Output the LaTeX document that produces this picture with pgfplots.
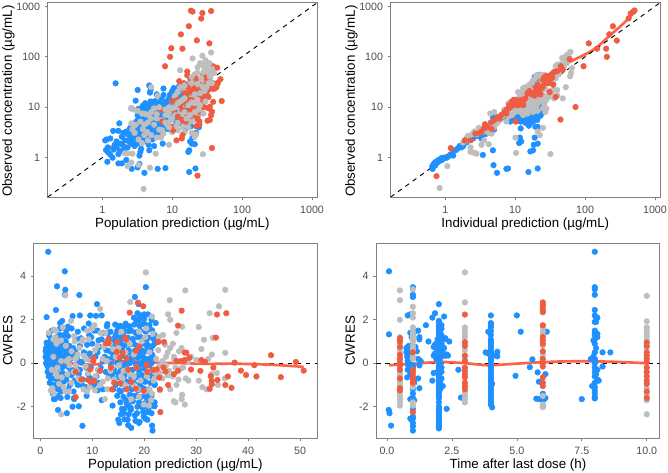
\documentclass[border=0pt]{standalone}
\usepackage{fontspec}
\setmainfont{Liberation Sans}
\usepackage{pgfplots}
\pgfplotsset{compat=1.18}

\definecolor{dvblue}{HTML}{1E90FF}
\definecolor{dvgrey}{HTML}{BEBEBE}
\definecolor{dvred}{HTML}{EE5C42}
\definecolor{dvline}{HTML}{FF6347}
\definecolor{frame}{HTML}{7F7F7F}
\definecolor{ticktext}{HTML}{4D4D4D}

\pgfplotsset{
  panel/.style={
    scale only axis, anchor=south west,
    axis line style={frame, line width=0.7pt},
    tick style={frame, line width=0.5pt},
    tick align=outside, major tick length=2.2pt,
    xtick pos=bottom, ytick pos=left,
    minor tick length=0pt,
    tick label style={font=\fontsize{8}{9}\selectfont, text=ticktext},
    label style={font=\fontsize{11.4}{13}\selectfont, text=black},
    xticklabel style={yshift=-1pt},
    every axis x label/.style={at={(rel axis cs:0.5,0)}, anchor=center, yshift=-20.6pt},
  },
  logpanel/.style={panel, width=202pt, height=145.7pt,
    xmin=0.1656, xmax=1180, ymin=0.166, ymax=1183,
    xtick={1,10,100,1000}, xticklabels={1,10,100,1000},
    ytick={1,10,100,1000}, yticklabels={1,10,100,1000},
    every axis y label/.style={at={(rel axis cs:0,0.5)}, rotate=90, anchor=center, yshift=29.5pt, xshift=-1pt},
    ylabel={Observed concentration (µg/mL)}},
  respanel/.style={panel, width=212.6pt, height=145.7pt,
    ymin=-3.44, ymax=5.5,
    ytick={-2,0,2,4}, yticklabels={-2,0,2,4},
    every axis y label/.style={at={(rel axis cs:0,0.5)}, rotate=90, anchor=center, yshift=19.5pt},
    ylabel={CWRES}},
  pb/.style={only marks, mark=*, mark size=2.1pt, color=dvblue, mark options={draw=none, fill=dvblue}},
  pg/.style={only marks, mark=*, mark size=2.1pt, color=dvgrey, mark options={draw=none, fill=dvgrey}},
  pr/.style={only marks, mark=*, mark size=2.1pt, color=dvred, mark options={draw=none, fill=dvred}},
  trend/.style={no marks, smooth, color=dvline, line width=2pt},
  refline/.style={no marks, black, dash pattern=on 3.4pt off 3.4pt, line width=0.7pt},
}

\begin{document}
\begin{tikzpicture}
\useasboundingbox (0,0) rectangle (501pt,354.75pt);

% population prediction, log-log
\begin{loglogaxis}[logpanel, at={(35.8pt,207pt)}, xlabel={Population prediction (µg/mL)}]
\addplot[pb] coordinates {(1.55,29.8)(3.2,22)(3,13.5)(2.6,9.5)(1.75,4.8)(1.43,3.4)(1.7,3.4)(1.15,2.3)(1.3,2.4)(1.1,2.2)(1.13,1.42)(1.2,1.3)(1.18,0.83)(1.4,1)(1.7,1.18)(1.7,0.77)(1.9,0.77)(2.2,0.9)(2.63,0.6)(3.2,0.64)(3.4,0.75)(4,0.5)(6.2,0.6)(8,0.62)(17.5,0.52)(21.5,0.61)(4.7,27)(4.9,22)(4.8,19.5)(7.5,23.5)(6,18)(7.5,17.5)(5.3,12.8)
(1.5,1.8)(1.6,1.6)(1.8,1.9)(1.9,2.6)(2,3.1)(2.1,2.2)(2.2,3.3)(2.3,1.6)(2.4,2.1)(2.5,2.6)(2.6,1.9)(2.7,3.4)(2.8,2.2)(2.9,1.7)(3,2.5)(3.1,3.9)(3.2,1.9)(3.3,2.3)(3.4,1.1)(3.5,1.3)(3.6,1.5)(3.7,2.7)(3.8,4.6)(3.9,3.2)(4,5.3)(4.1,6.1)(4.2,2.3)(4.3,7)(4.4,8.5)(4.5,3.3)(4.6,1.8)(4.7,1.4)(4.8,4.5)(5,9.5)(5.1,11)(5.2,6.2)(5.3,4.1)(5.4,2.8)(5.5,1.7)(5.6,5.7)(5.8,7.4)(6,4.9)(6.1,3.5)(6.3,9.2)(6.5,6.9)(6.7,5.5)(7,2.9)(7.3,1.9)(7.5,4.2)(7.7,7.6)(8,10.5)(8.2,13)(8.5,5.5)(8.8,8.8)(9,15)(9.3,18)(9.6,6.7)(10,21)(10.5,24)(11,14)(11.5,4.8)(12,16)(12.5,26)(13,9.5)(13.5,19)(14,6.2)(14.5,23)(15,12)(15.5,3.7)(16,17)(16.5,28)(17,1.3)(17.5,1.4)(18,2.1)(18.5,4.2)(19,1.9)(19.5,2.5)(20,6.5)(21,1.85)(22,3.1)(23,11)(24,4)(4.1,12)(3.3,9.3)(3.6,8.2)(3.9,9)(4.5,10)(4.7,11.7)(5.7,13.2)(6.6,12.5)(7,14.8)(8.3,12.4)(3.1,5.3)(3.4,6.3)(3.7,5.5)(4.2,4.1)(4.9,3.6)(5.2,5)(5.5,6.8)(6.2,8)(6.8,10.2)(2.9,4.8)(3.2,6.9)(4.4,5.9)(5.9,10.7)(7.9,5.2)(8.7,3.7)(9.5,11.4)(10.2,9)(11.3,8)(12.3,5.7)(13.2,11.5)(14.3,8)(16.2,6)(18,4.5)(20.5,8)
(1.2,1.6)(1.3,1.15)(1.45,1.45)(1.6,2.1)(1.8,1.35)(2,1.7)(2.1,1.45)(2.3,2.9)(2.5,3.9)(2.7,2.8)(2.9,3.1)(3.1,2.1)(3.3,3.3)(3.5,2.6)(3.7,3.7)(3.9,2.1)(4.1,3)(4.3,2.6)(4.5,4.5)(4.7,2.5)(5,3.2)(5.2,2.3)(5.5,3.1)(5.8,2.7)(6.2,4.3)(6.6,3.2)(7,4.6)(7.5,3.5)(8,4.6)(3.4,4.3)(3.6,4.9)(3.9,5.7)(4.2,4.9)(4.4,5.4)(4.7,6.6)(5,5.8)(5.4,7.8)(5.7,6.1)(6,6.3)(6.4,7.9)(7,6.6)(7.4,8.8)(8,6.2)(8.6,10)(9.2,7.6)(9.8,8.4)(10.5,11)(11,13)(11.8,11)(12.4,15)(13,18)(13.7,14)(14.5,16)(15.5,20)(16.5,14)(17.5,23)(18.5,27)(19,19)(10.5,6)(11.5,6.8)(12.5,7.5)(13.5,4.8)(14.5,4.1)(15,7)(16,8.5)(17,5)(18,7.5)(19,9.5)(21,6.8)(22,12)(24,17)(4.2,10.2)(5.5,11.5)(3.8,10.8)(6.8,8.5)(4.9,13)(5.8,12)(7.2,11.2)};
\addplot[pg] coordinates {(3.9,0.24)(27.5,1.17)(4.8,0.63)(2.3,0.68)(2.6,0.8)(3.3,0.72)(2.1,1.22)(2.3,1.22)(2.7,1.2)(5.8,1.2)(9,1.8)(2.6,9.7)(2.8,9)(3.2,8.5)(3.7,7.5)(4.1,7.4)(5,25)(6.2,17)(13,54)(19.5,93)(27,105)(36,122)(25,75)(32,70)(23,62)(29,60)(35,53)(34,43)(30,44)(21,45)(18,34)(24,33)(27,30)(31,30)(22,25)(26,24)(30,22)(33,26)(20,20)(24,20)(13,25)(17,26)(12,20)(15,21)(11,17)(14,14)(18,15)(21,15)(25,15)(28,17)(10,13)(12,10)(16,11)(19,9)(23,10)(27,12)(9,8)(11,7)(14,6.7)(17,7.5)(20,7)(24,7)(7,9)(8,7)(9.5,5.5)(12,5)(15,4.5)(18,5.2)(21,5.5)(7,5.5)(5.5,4.5)(6.5,3.6)(7.5,3)(8.5,4.5)(10,3.2)(12,3.5)(15,3.2)(19,3.1)(21,2.6)(22,2.9)(5,8)(6,7.3)(5.5,9.5)(4.5,7)(3,4.5)(2.6,4.8)(2.7,3.7)(3.8,3.7)(4.4,3.2)(5,2.8)(6,2.5)(6.9,2.5)(4.5,2.2)(3.7,1.95)(3.3,2.3)(4,2.8)(7.2,3.5)(8.8,7)(13,8)(17,17)(29,35)(22,36)(20,26)(32,17)(24,13)};
\addplot[pr] coordinates {(18.5,822)(19.5,790)(27,740)(36,810)(26,575)(17.3,405)(13.3,279)(22.5,212)(34,185)(9.7,148)(14,145)(9.3,100)(7.9,65)(38.5,65)(44,61)(16.4,51)(16.4,43)(12.6,33)(14.7,30)(18.3,37)(22,37)(27.5,43)(29,39)(25,27.5)(49,36)(45,30)(43,25)(41,24)(51,13.3)(38.5,12.8)(34.5,10.3)(33,9.5)(37,8.2)(36,7)(34.5,5.6)(32,5.4)(37,1.55)(23,0.44)(24.5,5.2)(24.5,4.5)(22,4.2)(14,2.8)(11.5,2.2)(13.7,2.4)(10.3,3.5)(9.8,4.1)(7.2,5.2)(6.9,9)(10,13.3)
(15,19)(16,18)(17.5,20)(19,21)(21,23)(24,21)(27,19)(30,17)(17,14)(19,14)(21.5,13)(24,14)(27,15)(29,13)(31,20)(34,23)(36,25)(39,23)(16,11.5)(18,11)(20,11)(23,11)(26,10)(29,10)(18,9)(21,9)(25,8)(14,9)(16,7.5)(12,6.5)(14,5.6)(15.5,5.2)(18,6.7)(20,7)(23,6)(12,14)(10.5,9)(13,11)(17,25)(20,29)(24,28)(32,32)(35,28)(29,27)(38,30)(41,27)(22,18)(26,17)(33,16)(28,24)};
\addplot[pg] coordinates {(15,8)(17,11)(19,12.5)(21,18)(23,14)(25,19)(27,26)(29,21)(31,25)(33,30)(35,40)(37,30)(28,50)(31,55)(26,38)(23,29)(19,30)(15,15)(13,13)(11,10)(16,6)(18,7)(21,8)(24,9)(28,7.5)(14,4)(17,4)(10,6)(11.5,4.2)(9,4)(8,5)(6,6)(4.5,5)(5,6)(3.5,5.2)(2.9,3.1)(4,4.5)(6.5,10)(8,9)(9,10)(10,9.5)(21,12)(25,11)(30,13)(12,12)(15,27)(19,40)(23,48)(27,70)(30,85)(34,75)(37,58)(40,48)};
\addplot[trend] coordinates {(1.13,1.48)(1.8,1.92)(2.8,2.7)(4.3,3.8)(6.7,6.5)(10.3,10.6)(16,15)(25,22.7)(38.5,30)(48,34.5)};
\addplot[refline] coordinates {(0.1656,0.1656)(1180,1180)};
\end{loglogaxis}

% individual prediction, log-log
\begin{loglogaxis}[logpanel, at={(293pt,207pt)}, xlabel={Individual prediction (µg/mL)}]
\addplot[pb] coordinates {(5.5,0.5)(7.5,0.6)(7.9,0.61)(4.9,0.71)(15.5,0.52)(21,0.61)(3.45,1.13)(4.8,1.4)(11.7,2.5)(12.2,2.1)(11.4,1.95)(16.5,1.33)(18,1.4)(18.5,1.8)(21,1.9)(19,2.5)(12,3.8)(14,4.9)(16.5,4.8)(19.5,4.1)(21,4.1)(15.7,4.3)(16.5,5.6)(23,6.8)(20.7,5.6)(16.5,8.2)(18.5,13.5)
(0.65,0.66)(0.67,0.72)(0.7,0.78)(0.74,0.84)(0.8,0.9)(0.88,0.98)(0.95,1.0)(1,1)(1.05,1)(1.3,1.1)(1.5,1.5)(1.7,1.6)(2,2)(2.5,2.4)(3,2.7)(3.6,2.9)(4.2,3.3)(5,3.6)(4.6,4.7)(4.8,6.3)(5.5,6.3)(6.5,6.2)(7.5,6.1)(9,6)(10,5.9)(11,7)(12,6.5)(14,6.7)(15,6.5)(16,7)(18,6.9)(20,7.5)(22,8)(14,9.5)(16,11)(18,10.5)(20,11)(22,12)(15,17)(17,20)(19,25)(20,31)(21,38)(22,44)(24,30)(19,40)(20,16)(22,18)
(0.66,0.6)(0.68,0.68)(0.72,0.7)(0.77,0.8)(0.82,0.85)(0.9,0.9)(1.1,1.05)(1.2,1.15)(1.4,1.4)(1.6,1.7)(1.8,1.7)(2.2,2.3)(2.8,2.7)(3.3,2.4)(3.9,3)(4.5,3.9)(5,5)(6,5.8)(7,7)(8,7)(8.5,5.2)(9.5,8)(10,6.9)(11,5.4)(12,5.2)(13,5.5)(14,5.7)(15,5.2)(17,5.9)(18,5.2)(19,6)(21,6.2)(22,7)(23,7.8)(24,7.5)(13,8)(12,9.5)(15,8.5)(18,9)(21,9)(24,9.5)(14,12)(17,13)(20,14)(23,15)(16,15)(19,18)(21,22)(23,28)(24,34)(25,40)(18,30)(17,26)(14,20)(20,35)};
\addplot[pg] coordinates {(0.83,0.25)(1.07,0.68)(10.3,1.24)(32,1.18)(4.2,1.84)(10.1,2.5)(25,3.9)(22.5,2.8)(21,3.3)(2.3,1.3)(2.6,1.25)(2.8,1.2)(2.3,1.6)(3.3,1.8)(3.6,2.2)(2,2.4)(2.2,2.6)(2.6,3.3)(3,3.9)(3.5,3.3)(4.2,3.1)(4.6,3)(5,4)(5.2,5.5)(4.4,7.5)(5,8)(7.5,5.2)(9,7)(10,8)(7,9)(8,12)(9,11)(10,10)(11,9)(12,8)(13,7)(14,8.5)(15,7.5)(16,9.5)(18,8)(21,8.5)(25,9.5)(28,9.5)(27,8)(12,13)(13,16)(14,18)(15,14)(16,22)(17,15)(18,17)(20,22)(22,14)(24,15)(26,17)(27,23)(30,16)(33,19)(36,15)(40,17)(48,15)(53,25)(61,41)(63,48)(22,29)(24,37)(26,44)(30,32)(35,30)(38,38)(42,45)(44,52)(46,65)(45,72)(38,65)(50,90)(52,100)(60,120)(56,110)(65,60)(18,34)(20,43)(16,28)(14,25)(13,21)(40,70)(42,68)(21,12)(23,20)(25,23)
(1.8,2)(2,2.2)(2.1,2.7)(2.4,2.9)(2.8,2.9)(3.2,3.5)(3.7,3.9)(4.1,3.9)(4.5,4.4)(5.5,4.8)(6,5.5)(6.5,6.5)(7,7.5)(7.5,8)(8,8.5)(8.5,9)(9,9.5)(9.5,12)(8.5,12.5)(10,13)(11,15)(11.5,13)(12.5,11)(13,9)(13.5,10)(14,13)(15,11)(16,13)(17,10)(17.5,12)(18.5,12)(19,14)(20,10)(20,13)(21,15)(22,17)(23,24)(24,21)(25,30)(26,27)(27,33)(28,35)(29,40)(31,38)(33,35)(35,42)(37,46)(40,60)(43,58)(48,70)(50,65)(55,75)(58,100)(62,125)(47,95)(15,24)(17,30)(19,36)(21,42)(23,44)(14,18)(12,17)(11,20)(13,24)(16,17)(18,22)(20,27)(24,13)(26,12)(28,14)(32,21)(35,22)(40,22)(10,11)(9,8)(8,6.5)};
\addplot[pr] coordinates {(0.75,0.43)(1.2,1.55)(10.2,5.2)(44.5,5.7)(73,10.1)(95,65)(60,90)(113,185)(148,145)(205,100)(200,145)(222,280)(250,405)(285,210)(420,580)(450,725)(490,790)(510,830)(1.9,2.2)(2.3,2.2)(2.7,3)(3.1,3.1)(3.6,3.9)(3.7,4.6)(4.6,3.7)(5,5.5)(5.6,6.3)(6.3,7)(7,8)(7.6,9)(8.2,11)(9,13)(9.4,12)(10,14)(11,11)(12,14)(13,13)(15,19)(16,21)(18,19)(20,22)(20,25)(21,28)(24,24)(25,35)(26,39)(29,38)(30,30)(33,45)(36,50)(35,28)(38,16)(34,39)(45,65)(48,55)(28,42)(23,18)(31,20)(6,6)(8,9.5)(10,11)(13,11)(11.5,13)(14,15)(17,18)(19,17)(22,20)(25,26)(27,30)(32,36)(40,52)(7.5,7.5)(8.5,10)(9.5,14)(10.5,12.5)(4,4)(4.5,5)(3.3,3.3)};
\addplot[trend] coordinates {(0.65,0.61)(0.86,0.87)(1.33,1.42)(2.6,2.6)(5,5.2)(10.7,12)(18.5,24)(32,45)(55,74)(107,117)(150,158)(230,270)(355,460)(520,790)};
\addplot[refline] coordinates {(0.1656,0.1656)(1180,1180)};
\end{loglogaxis}

% residuals vs population prediction
\begin{axis}[respanel, at={(25.3pt,26.25pt)}, xmin=-1.28, xmax=53.3,
  xtick={0,10,20,30,40,50}, xticklabels={0,10,20,30,40,50},
  xlabel={Population prediction (µg/mL)}]
\addplot[pb] coordinates {(1.5,5.13)(4.7,4.23)(3.2,3.54)(4.8,3.38)(4.7,3.15)(7.5,3.14)(1.2,2.12)(3,2.45)(4.2,1.95)(6.2,2.17)(7.6,2.2)(9.6,2.2)(10.7,2.18)(11.8,2.2)(10.9,2.72)(9.3,1.83)(5.3,1.68)(3.8,1.85)(1.2,0.95)(1.7,1.27)(2.2,1.5)(3.8,1.6)(5,1.5)(7.2,1.45)(9.8,1.2)(11.2,1.05)(12.9,1.8)(1,0.55)(1.2,0.5)(1.4,0.6)(1.6,0.4)(1.8,0.7)(2,0.5)(2.2,0.3)(2.5,0.6)(2.8,0.4)(3.1,0.8)(3.4,0.5)(3.7,0.2)(4,0.6)(4.4,0.9)(4.8,0.4)(5.2,0.6)(5.8,0.2)(6.3,0.7)(7,0.3)(7.6,0.8)(8.4,0.5)(9.2,0.2)(10,0.9)(11,0.5)(12,0.1)(12.7,0.6)(1.1,0)(1.5,-0.2)(1.9,-0.5)(2.3,-0.1)(2.7,-0.7)(3.2,-0.3)(3.7,-0.9)(4.2,-0.2)(4.7,-0.6)(5.3,-1.2)(5.9,-0.3)(6.6,-0.8)(7.4,-0.5)(8,-1)(8.8,-0.2)(9.7,-0.7)(1.8,-0.9)(2.4,-1.4)(2.8,-1.65)(3.3,-1.5)(3.9,-1.6)(4,-1.3)(3.4,-2.15)(5.1,-2.3)(6.2,-2)(7.4,-1.98)(8.1,-2.88)(6.5,-1.6)(8.9,-1.5)(11,-1.25)(11.8,-1.7)(13.2,-0.6)
(13,1.4)(14,1)(14.5,1.3)(15,1.7)(15.5,1.2)(16,1.6)(16.5,1.75)(17,0.9)(17.5,1.5)(18,2.1)(18.3,1.4)(18.7,2.3)(19,2)(19.3,1.2)(19.7,1.8)(20,2.25)(20.5,1.1)(21,1.6)(21.4,2)(22,1.3)(22.2,1.85)(18.2,3.05)(20.3,3.5)(18.9,2.72)(14,0.4)(14.5,0.7)(15,0.2)(15.5,0.9)(16,0.4)(16.5,0)(17,0.6)(17.5,0.25)(18,0.9)(18.5,0.3)(19,-0.1)(19.5,0.6)(20,0.2)(20.5,0.8)(21,-0.1)(21.5,0.4)(22,0.9)(14,-0.4)(14.5,-1)(15,-0.5)(15.5,-1.3)(16,-0.7)(16.5,-1.7)(17,-0.3)(17.5,-1.1)(18,-1.5)(18.5,-0.6)(19,-1.2)(19.5,-1.9)(20,-0.8)(20.5,-1.6)(21,-0.5)(21.5,-1.95)(22,-1)(13.9,-1.95)(15,-2.6)(15.2,-2.75)(15.7,-2.1)(16,-2.3)(16.2,-2.58)(16.8,-2.6)(17,-1.95)(16.9,-2.85)(17.5,-2.97)(17.4,-2.05)(18.2,-2.4)(18.7,-2)(19,-2.75)(19.1,-2.7)(19.8,-2.25)(20.2,-2.55)(20.6,-2.6)(20.7,-2.25)(21.5,-2.87)(21.6,-3.1)(22,-1.98)
(1,0.3)(1.1,0.7)(1.2,0.2)(1.3,-0.1)(1.3,0.45)(1.4,-0.4)(1.5,0.75)(1.6,-0.6)(1.7,0.1)(1.7,0.95)(1.8,-0.3)(1.9,0.25)(2,-0.7)(2,1.05)(2.1,-0.1)(2.2,0.75)(2.3,-1)(2.4,0.15)(2.5,-0.35)(2.6,0.85)(2.6,-1.65)(2.7,0.1)(2.8,-1)(2.9,0.65)(3,-0.15)(3.1,1.2)(3.2,-0.75)(3.3,0.25)(3.4,-1.2)(3.5,0.95)(3.6,-0.05)(3.7,1.3)(3.8,-0.55)(3.9,0.7)(4,-1.1)(4.1,0.35)(4.2,1.1)(4.3,-0.45)(4.4,0.15)(4.5,-0.85)(4.6,1.3)(4.7,0.65)(4.8,-0.1)(4.9,1)(5,-0.75)(5.1,0.2)(5.2,-1.55)(5.3,1.25)(5.4,0.45)(5.5,-0.2)(5.6,0.8)(5.7,-1)(5.8,0.55)(6,1.6)(6,-0.55)(6.2,0.35)(6.4,-1.3)(6.5,-1.65)(6.7,0.55)(6.9,-0.2)(7,1.1)(7.2,-1)(7.4,0.1)(7.6,-0.3)(7.8,1.15)(8,0.05)(8.2,-0.75)(8.4,1.6)(8.6,0.3)(8.8,-1.1)(9,0.85)(9.2,-0.5)(9.4,1.3)(9.5,0.45)(9.7,-0.2)(9.9,1.6)(10.1,0.1)(10.3,-1)(10.4,1.5)(10.6,0.3)(10.8,-0.6)(11,1.5)(11.2,-0.9)(11.4,0.75)(11.6,-0.2)(11.8,1.1)(12,-1.2)(12.2,1.4)(12.4,0.3)(12.6,-0.4)(12.8,1.7)(13,0.2)
(14.4,1.78)(15.4,1.72)(16.4,1.82)(17.2,1.7)(18.1,1.78)(19.1,1.72)(20.1,1.8)(21,1.75)(13.5,1.45)(14.8,1.5)(16,1.4)(17,1.48)(18.4,1.42)(19.2,1.5)(20.3,1.45)(21.5,1.52)(13.2,1.15)(14.4,1.2)(15.6,1.1)(16.8,1.18)(17.8,1.12)(18.8,1.2)(19.8,1.1)(20.8,1.18)(21.8,1.12)(13.8,0.85)(15,0.9)(16.2,0.82)(17.4,0.88)(18.6,0.8)(19.6,0.9)(20.6,0.85)(21.6,0.8)(13.4,0.55)(14.6,0.5)(15.8,0.6)(17,0.5)(18.2,0.58)(19.2,0.5)(20.2,0.55)(21.2,0.6)(14,0.25)(15.2,0.2)(16.4,0.3)(17.6,0.2)(18.8,0.25)(19.8,0.3)(20.8,0.2)(21.8,0.25)(13.6,-0.05)(14.8,0)(16,-0.1)(17.2,0)(18.4,-0.05)(19.4,0)(20.4,-0.1)(21.4,0)(14.2,-0.3)(15.4,-0.35)(16.6,-0.25)(17.8,-0.3)(19,-0.35)(20,-0.25)(21,-0.3)(22,-0.35)(13.8,-0.6)(15,-0.65)(16.2,-0.55)(17.4,-0.6)(18.6,-0.65)(19.6,-0.55)(20.6,-0.6)(21.6,-0.65)(14.4,-0.9)(15.6,-0.95)(16.8,-0.85)(18,-0.9)(19.2,-0.95)(20.2,-0.85)(21.2,-0.9)(22,-0.95)(14,-1.2)(15.2,-1.25)(16.4,-1.15)(17.6,-1.2)(18.8,-1.25)(19.8,-1.15)(20.8,-1.2)(14.8,-1.5)(16,-1.55)(17.2,-1.45)(18.4,-1.5)(19.4,-1.55)(20.4,-1.45)(21.4,-1.5)(15.4,-1.8)(16.6,-1.85)(17.8,-1.75)(19,-1.8)(20,-1.85)(21,-1.75)(22,-1.8)(16.2,-2.1)(17.4,-2.15)(18.6,-2.3)(19.7,-2.05)(20.8,-2.1)(21.4,-2.3)(15.5,-2.35)(17,-2.35)(18.3,-2.65)(19.9,-2.45)(20,2.05)(20.7,2.25)(19.4,2.2)(18.5,1.95)(19.1,2.1)};
\addplot[pg] coordinates {(20.3,4.18)(4.8,3.12)(24.9,2.9)(27.9,3.35)(35.6,3.38)(34.4,2.62)(32.6,2.3)(24.6,2.25)(25,2)(27.3,1.68)(30.5,1.67)(33.2,1.17)(35.6,0.48)(17.3,2.82)(11.5,2.5)(5.9,1.95)(2.6,1.55)(3,1.5)(4.3,1.65)(6.5,1.25)(8,1)(10.4,1.75)(12.5,1.4)(2.5,1.1)(3.1,0.9)(4.9,0.8)(6.6,1)(7.2,0.4)(8.4,0.35)(9.8,0.1)(12.2,0.75)(13.4,0.9)(15,0.7)(16.5,1.1)(19.5,1)(20.4,1.6)(21.5,2.15)(22.8,1.2)(23.6,1.3)(25.5,0.9)(26.2,1.4)(27.2,0.7)(24.5,0.5)(25.7,0.3)(29,0.3)(31,0.65)(31.5,1.08)(32.3,0.2)(33,0.4)(22.7,0.6)(23.5,0.1)(24.2,-0.1)(26,-0.2)(27.5,-0.2)(28,-0.7)(28.5,-0.8)(30.5,-0.8)(31.2,-1.1)(32,-1.2)(33,-0.5)(34,-0.45)(34.2,-1)(35.5,-0.7)(26.2,-1)(27.3,-1.45)(27.2,-1.65)(27.8,-1.9)(25.7,-1.75)(26,-1.8)(24.5,-0.55)(25,-1.2)(23.5,-0.7)(23,-1.25)(21.5,-1.4)(2.3,-1.15)(2.6,-1.4)(4,-2.35)(3.2,-0.6)(3.6,-0.95)(4.8,-1.3)(5.2,-0.5)(6,-0.9)(6.8,-0.1)(7.3,-0.7)(8.3,-1.2)(9,-1.3)(9.2,-0.45)(10.6,-0.6)(11.5,-1)(12.4,-1.65)(13,-0.7)(13.8,-0.2)(15.1,-0.1)(15.8,-0.7)(16.7,-0.3)(17.2,-0.5)(17.9,-1)(18.5,-0.2)(19,-1.55)(19.9,-1.9)(20.9,-1.95)(21,-1.2)(21.8,-0.8)(20.8,-0.35)(14.5,0.3)(12,0.2)(5.5,0.2)(4,0.1)(2.5,0.3)
(1.6,1.4)(2.9,1.2)(3.4,1)(4,1.05)(5,0.1)(5.6,-0.1)(6,0.55)(6.9,0.25)(7.5,0.7)(8.2,1.1)(9,1.5)(10,1.6)(11,0.8)(11.6,1.4)(12.8,0.1)(14,0.65)(14.8,0.3)(15.6,1.45)(16.4,0.5)(17.2,0.9)(18,0.4)(19,1.45)(20.2,1.2)(21,0.5)(21.6,1.35)(22.3,0.2)(23,-0.1)(24,0.85)(25,0.7)(25.8,0.15)(26.7,0.55)(28.5,0.1)(30,0.15)(24.2,0.3)(24.8,-0.35)(25.5,-0.6)(26.6,-0.75)(27,-0.25)(23,-0.45)(22,-0.7)(2,-1.25)(3,-0.45)(3.3,-0.2)(4.1,-0.65)(4.5,-1.1)(5.5,-1.3)(6.4,-0.4)(7,-0.35)(7.8,-0.8)(8.7,-0.15)(9.5,-1.1)(10.5,-1.25)(11,-0.3)(12,-0.85)(12.9,-1.2)(13.5,-0.35)(14.2,-0.75)(15.5,-0.6)(16,-0.35)(16.3,-1)(17.5,-1.65)(18,-0.6)(18.8,-1.2)(19.3,-0.8)(20.2,-1.3)(20.5,-0.6)(21.3,-1.7)(22.3,-0.45)(2.2,-0.3)(6.7,0.2)(8.8,0.2)(9.3,1.1)(10.5,0.6)};
\addplot[pr] coordinates {(50.7,-0.34)(49.2,0.06)(46.3,-0.64)(44.4,0.37)(41.6,-0.61)(41.2,-0.09)(39.6,-0.54)(38.6,-0.34)(37.4,0.03)(36.8,-1.13)(36.1,-0.61)(35.6,-1)(35.8,2.3)(34,2.24)(33.8,1.18)(34.1,-0.77)(33.3,-0.2)(33,-0.97)(33,-0.81)(32.8,-0.6)(32.6,-1.18)(31,0.15)(31.7,0.06)(30.8,-0.35)(29,-0.29)(28.7,0.26)(28.1,0.49)(27.8,0.49)(27.2,2.42)(26.5,1.73)(26.2,0.11)(27.1,0.1)(27.8,0.15)(26.5,-0.35)(25.7,-0.5)(24.1,-0.38)(24.6,-1)(23,-1.2)(23.1,-2.25)(22.7,0.98)(23.8,0.98)(22.9,-0.66)(23.7,-0.2)(22.4,-0.28)(21.7,-0.3)(20.6,-0.4)(19.9,-1.27)(19.8,2.62)(18.8,2.79)(17.2,2.33)(19,0.75)(18.4,0.57)(18.4,-1.17)(17.5,-0.86)(16.6,-1.2)(16.5,1.1)(16.3,1.18)(15.8,0.49)(14.8,0.98)(14.7,0.52)(13.8,-1.2)(13.6,-0.2)(13.1,1.1)(12.6,0.92)(13.1,0.92)(11.5,-0.35)(10.4,-0.81)(9.7,-0.86)(10.2,0.26)(10.2,0.1)(9.6,-0.28)(9.2,-0.77)(7.9,-0.74)(6.8,-0.4)(6.8,-1.56)(14.2,-0.9)(15.4,-0.92)(15.3,0.26)(16.6,0.22)(16.9,-0.3)(18.5,-0.2)(20.5,-0.1)};
\addplot[refline] coordinates {(-1.28,0)(53.3,0)};
\addplot[trend] coordinates {(1.1,0.31)(3.1,0.14)(5.7,0)(8.3,-0.05)(10.8,-0.05)(13.4,0.06)(16.6,0.09)(19.8,0.06)(23,0.02)(28,0)(32,-0.03)(37,-0.02)(43.5,-0.06)(48,-0.12)(50.7,-0.17)};
\end{axis}

% residuals vs time after last dose
\begin{axis}[respanel, at={(282.2pt,26.25pt)}, xmin=-0.41, xmax=10.5,
  xtick={0,2.5,5,7.5,10}, xticklabels={0.0,2.5,5.0,7.5,10.0},
  xlabel={Time after last dose (h)}]
\addplot[pb] coordinates {(0.08,4.23)(0.08,1.33)(0.07,-2.15)(0.1,-2.3)(0.16,-2.87)(0.8,2.2)(0.9,2.25)(1,3.5)(1,3.05)(1.2,1.5)(1.25,1.2)(1.25,1.1)(0.9,1.4)(0.75,0.7)(0.75,0.5)(0.78,0.3)(0.8,0.1)(0.8,-0.3)(0.78,-0.65)(0.85,0.8)(0.9,-0.5)(0.9,-1.65)(0.9,-2.55)(0.95,-2.6)(1,-2.75)(1,-2.9)(1,-3.1)(1,-2.1)(1,-1.4)(1.05,-0.9)(1.05,-1.7)(1.1,0.75)(1.15,0.55)(1.2,0.2)(1.25,-0.1)(1.2,-0.7)(1.25,-1.15)(1.3,0.1)(1.5,1.75)(1.6,1)(1.75,2.1)(1.85,2.3)(2,2.72)(2.2,2.15)(1.8,-0.45)(1.75,-0.8)(2.3,-2.1)(2.4,1)(2.25,1.15)(2.35,0.35)(2.2,0.7)(1.8,0.75)(1.85,0.45)(1.9,0.2)(2,1.95)(2,1.8)(2,1.6)(2,1.4)(2,1.2)(2,1)(2,0.8)(2,0.6)(2,0.4)(2,0.2)(2,-0.15)(2,-0.3)(2,-0.5)(2,-0.7)(2,-0.9)(2,-1.1)(2,-1.3)(2,-1.5)(2,-2)(2,-2.1)(2,-2.3)(2,-2.5)(2,-2.6)(2,-2.75)(2,-2.9)(2,-3)(2.05,1.5)(2.1,1.75)(2.1,0.9)(2.1,-0.2)(2.1,-0.7)(2.15,-1.05)(1.95,1.1)(1.95,0.6)(2.1,0.35)(1.95,-0.4)(2.75,-0.3)(2.85,-1.58)(3.9,1.45)(4.0,1.48)(3.8,0.5)(3.9,0.45)(4,2.2)(4,1.85)(4,1.65)(4,1.1)(4,0.9)(4,0.7)(4,0.5)(4,0.3)(4,0.15)(4,-0.1)(4,-0.3)(4,-0.5)(4,-0.7)(4,-0.9)(4,-1.2)(4,-1.4)(4,-1.6)(4,-1.8)(4.05,-2.03)(4.05,-0.95)(4.1,0.35)(4.25,0.53)(4.25,0.32)(5,2.2)(5.15,1.45)(4.95,-0.58)(5.5,-0.18)(5.6,0.18)(5.85,-0.85)(5.8,-0.42)(5.75,-1.63)(5.85,-1.65)(6,-1.4)(6,-1.7)(6.05,-1.65)(6.1,-1.6)(6.1,-0.5)(6.15,1.45)(6,-2)(7.5,-1.65)(7.85,0.2)(8.6,0.5)(8.3,0.5)(8,5.13)(8,3.5)(8,3.4)(8,3.15)(8,2.45)(8,2.2)(8.05,2.1)(8.1,2.1)(8,1.5)(8,1.3)(8.1,1.2)(8.1,1.35)(7.95,1.05)(8.05,0.7)(7.95,0.3)(8,0.1)(8,-0.2)(8.1,-0.3)(8.3,-0.15)(8,-0.6)(8.1,-0.75)(8.15,-0.8)(7.9,-1.05)(8,-1.1)(8,-1.25)(8,-1.55)(8,-1.62)
(2,1.9)(2,1.7)(2,1.5)(2,1.3)(2,1.1)(2,0.9)(2,0.7)(2,0.5)(2,0.3)(2,0.1)(2,-0.05)(2,-0.2)(2,-0.4)(2,-0.6)(2,-0.8)(2,-1)(2,-1.2)(2,-1.4)(2,-1.6)(2,-1.8)(2,-2.2)(2,-2.4)(2,-2.7)(2,-2.8)(2,-2.95)(1.9,0.9)(1.9,0.7)(1.9,0.4)(2.05,0.7)(2.05,0.2)(2.05,-0.9)(2.05,-1.2)(2.1,1.3)(2.1,1.1)(2.15,0.5)(2.2,0.35)(2.3,0.4)(2.1,0.6)(2.15,0.75)(1.85,0.85)(1.8,0.35)(1.95,0.35)(2.1,1.6)(2.1,-0.4)(2.05,-0.05)(2.2,1.1)(2.25,0.35)
(1,3.15)(1,1.4)(1,-0.1)(1,-0.2)(1,-1.2)(1,-1.6)(1,-2.45)(1,-2.55)(1.05,1.45)(0.95,1.2)(0.9,0.6)(0.85,0.35)(0.85,0)(0.8,0.55)(0.8,0.75)(0.82,-0.1)(0.95,-0.2)
(4,1.75)(4,1.3)(4,1)(4,0.8)(4,0.6)(4,0.4)(4,0.2)(4,0.05)(4,-0.2)(4,-0.4)(4,-0.6)(4,-0.8)(4,-1)(4,-1.1)(4,-1.3)(4,-1.5)(4,-1.7)(4,-1.9)
(8,1.9)(8.05,1.9)(8,1.4)(8,1.1)(8,0.9)(8,0.5)(8,0.2)(8,-0.4)(8.05,-0.5)(8,-0.9)(8,-1.4)(8,0)};
\addplot[pg] coordinates {(0.5,3.35)(0.5,2.9)(0.5,2)(0.5,1.2)(0.5,1.05)(0.5,0.9)(0.5,0.6)(0.5,0.3)(0.5,0.1)(0.5,-0.15)(0.5,-0.4)(0.5,-0.5)(0.5,-0.6)(0.5,-0.8)(0.5,-0.9)(0.5,-1.05)(0.5,-1.35)(0.5,-1.45)(0.5,-1.55)(0.5,-1.65)(0.5,-1.8)(0.5,-1.95)(1,3.4)(1,2.6)(1,2.3)(1,2.1)(1,1.65)(1,1.45)(1,1.3)(1,1.2)(1,1.1)(1,1)(1,0.8)(1,0.65)(1,0.55)(1,0.3)(1,0.2)(1,-1)(1,-1.1)(1,-1.8)(1,-1.95)(3,4.18)(3,2.8)(3,1.65)(3,1.5)(3,1.35)(3,1.2)(3,-1.35)(3,-1.5)(3,-1.65)(3,-1.8)(3,0.6)(3,0.2)(6,1.65)(6,1.45)(6,1.3)(6,0.8)(6,0.4)(6,-1.5)(6,-1.9)(6,-2.02)(10,3.1)(10,1.93)(10,1.65)(10,1.55)(10,1.4)(10,1.25)(10,1.1)(10,0.7)(10,-1.15)(10,-1.45)(10,-1.7)(10,-2.35)};
\addplot[pr] coordinates {(0.5,1.15)(0.5,1)(0.5,0.75)(0.5,0.4)(0.5,0.2)(0.5,0)(0.5,-0.1)(0.5,-0.3)(0.5,-0.7)(0.5,-1.15)(0.5,-1.25)(1,0.5)(1,-0.3)(1,-0.45)(1,-0.6)(1,-0.75)(1,-0.9)(1,-2.25)(3,2.24)(3,0.97)(3,0.8)(3,0.35)(3,0.1)(3,-0.2)(3,-0.35)(3,-0.5)(3,-0.65)(3,-0.9)(3,-1.05)(3,-1.2)(6,2.8)(6,2.7)(6,2.6)(6,2.45)(6,2.35)(6,1.75)(6,1.2)(6,1.05)(6,0.9)(6,0.55)(6,0.2)(6,0)(6,-0.15)(6,-0.65)(6,-0.9)(6,-1.05)(10,0.95)(10,0.8)(10,0.5)(10,0.35)(10,0.2)(10,0.05)(10,-0.2)(10,-0.4)(10,-0.6)(10,-0.8)(10,-0.95)(10,-1.3)(10,-1.6)};
\addplot[refline] coordinates {(-0.41,0)(10.5,0)};
\addplot[trend] coordinates {(0.08,-0.09)(1.04,-0.02)(2.06,0.06)(3,0)(3.86,-0.09)(4.6,-0.05)(5.65,0.03)(6.7,0.08)(7.8,0.09)(8.86,0.06)(10,0)};
\end{axis}
\end{tikzpicture}
\end{document}
